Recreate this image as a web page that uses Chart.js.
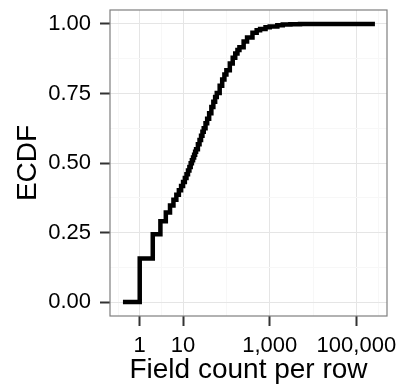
<!DOCTYPE html>
<html>
<head>
<meta charset="utf-8">
<script src="https://cdn.jsdelivr.net/npm/chart.js@4.4.1/dist/chart.umd.min.js"></script>
<style>
  html, body { margin: 0; padding: 0; background: #ffffff; }
  #chart { display: block; }
</style>
</head>
<body>
<canvas id="chart" width="400" height="388"></canvas>
<script>
// ECDF of field count per row
const fieldCounts = [0.41, 1, 2, 3, 4, 5, 6, 7, 8, 9, 10, 11, 12, 13, 14, 15, 16, 17, 18, 19, 20,
  22, 24, 26, 28, 30, 33, 36, 40, 45, 50, 55, 60, 70, 80, 90, 100,
  120, 140, 160, 180, 200, 250, 300, 400, 500, 600, 800, 1000,
  1500, 2000, 3000, 5000, 10000, 268000];
const ecdfValues = [0, 0.157, 0.244, 0.291, 0.322, 0.347, 0.368, 0.386, 0.402, 0.417, 0.432,
  0.446, 0.46, 0.473, 0.486, 0.499, 0.51, 0.52, 0.53, 0.54, 0.549,
  0.567, 0.583, 0.598, 0.612, 0.625, 0.643, 0.659, 0.679, 0.701, 0.72, 0.737, 0.752,
  0.778, 0.8, 0.818, 0.833, 0.858, 0.878, 0.894, 0.906, 0.916,
  0.937, 0.951, 0.968, 0.977, 0.982, 0.988, 0.991,
  0.995, 0.998, 0.999, 1, 1, 1];

// axis ticks
const xTickValues = [1, 10, 1000, 100000];
const xTickLabels = ['1', '10', '1,000', '100,000'];
const xMinorValues = [0.3162, 3.162, 100, 10000, 316228];
const yTickValues = [0, 0.25, 0.5, 0.75, 1];
const yTickLabels = ['0.00', '0.25', '0.50', '0.75', '1.00'];
const yMinorValues = [0.125, 0.375, 0.625, 0.875];

const FONT = '"Liberation Sans", Arial, Helvetica, sans-serif';
const MAJOR_GRID = '#e5e5e5';
const MINOR_GRID = '#f7f7f7';
const TICK_COLOR = '#333333';

function isMajor(list, v) {
  return list.some(t => Math.abs(t - v) < 1e-9 * Math.max(1, Math.abs(t)));
}

// draws the grey panel border like ggplot's theme_bw
const panelBorder = {
  id: 'panelBorder',
  afterDraw(chart) {
    const { ctx, chartArea: a } = chart;
    ctx.save();
    ctx.strokeStyle = '#7f7f7f';
    ctx.lineWidth = 1.2;
    ctx.strokeRect(a.left, a.top, a.right - a.left, a.bottom - a.top);
    ctx.restore();
  }
};

const points = fieldCounts.map((x, i) => ({ x: x, y: ecdfValues[i] }));

new Chart(document.getElementById('chart'), {
  type: 'line',
  data: {
    datasets: [{
      data: points,
      borderColor: '#000000',
      borderWidth: 4.5,
      borderJoinStyle: 'miter',
      borderCapStyle: 'butt',
      pointRadius: 0,
      stepped: true,
      fill: false
    }]
  },
  options: {
    responsive: false,
    animation: false,
    devicePixelRatio: 1,
    layout: { padding: { top: 10, right: 13, left: 0, bottom: 0 } },
    plugins: {
      legend: { display: false },
      tooltip: { enabled: false }
    },
    scales: {
      x: {
        type: 'logarithmic',
        min: 0.206,
        max: 509000,
        afterBuildTicks: scale => {
          scale.ticks = xMinorValues.concat(xTickValues).sort((a, b) => a - b).map(v => ({ value: v }));
        },
        afterFit: scale => {
          scale.height = 72;
          scale.paddingLeft = 0;
          scale.paddingRight = 0;
        },
        border: { display: false },
        grid: {
          color: c => isMajor(xTickValues, c.tick.value) ? MAJOR_GRID : MINOR_GRID,
          lineWidth: 1,
          drawTicks: true,
          tickLength: 10,
          tickWidth: 2,
          tickColor: c => isMajor(xTickValues, c.tick.value) ? TICK_COLOR : 'rgba(0,0,0,0)'
        },
        ticks: {
          autoSkip: false,
          maxRotation: 0,
          padding: 7,
          color: '#000000',
          font: { family: FONT, size: 22 },
          callback: v => {
            const i = xTickValues.findIndex(t => Math.abs(t - v) < 1e-6 * t);
            return i >= 0 ? xTickLabels[i] : '';
          }
        },
        title: {
          display: true,
          text: 'Field count per row',
          color: '#000000',
          font: { family: FONT, size: 28, lineHeight: 1 },
          padding: { top: 0, bottom: 4 }
        }
      },
      y: {
        type: 'linear',
        min: -0.05,
        max: 1.05,
        afterBuildTicks: scale => {
          scale.ticks = yMinorValues.concat(yTickValues).sort((a, b) => a - b).map(v => ({ value: v }));
        },
        afterFit: scale => {
          scale.width = 110;
          scale.paddingTop = 0;
          scale.paddingBottom = 0;
        },
        border: { display: false },
        grid: {
          color: c => isMajor(yTickValues, c.tick.value) ? MAJOR_GRID : MINOR_GRID,
          lineWidth: 1,
          drawTicks: true,
          tickLength: 10,
          tickWidth: 2,
          tickColor: c => isMajor(yTickValues, c.tick.value) ? TICK_COLOR : 'rgba(0,0,0,0)'
        },
        ticks: {
          autoSkip: false,
          padding: 9,
          color: '#000000',
          font: { family: FONT, size: 22 },
          callback: v => {
            const i = yTickValues.findIndex(t => Math.abs(t - v) < 1e-9);
            return i >= 0 ? yTickLabels[i] : '';
          }
        },
        title: {
          display: true,
          text: 'ECDF',
          color: '#000000',
          font: { family: FONT, size: 28, lineHeight: 1 },
          padding: { top: 14, bottom: 0 }
        }
      }
    }
  },
  plugins: [panelBorder]
});
</script>
</body>
</html>
